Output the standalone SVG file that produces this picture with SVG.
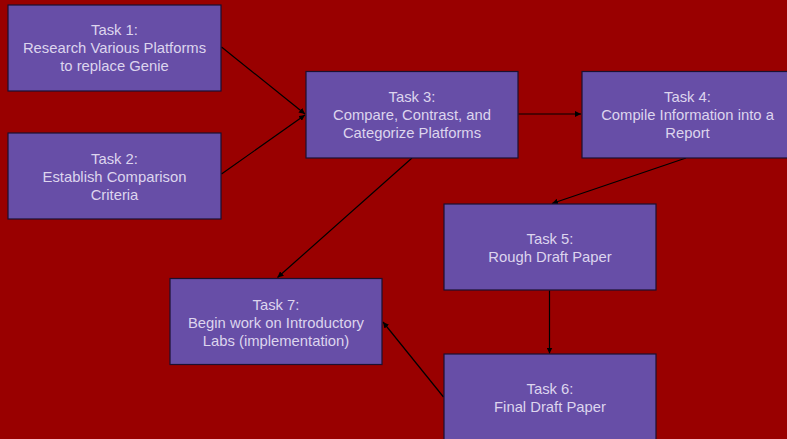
<svg xmlns="http://www.w3.org/2000/svg" width="787" height="439" viewBox="0 0 787 439">
<defs>
<style>
.box{fill:#674ea7;stroke:#1c1030;stroke-width:1.2}
.t{font-family:"Liberation Sans",Arial,sans-serif;font-size:14.8px;fill:#ddd5ee;text-anchor:middle}
.c{stroke:#000;stroke-width:1.2;fill:none;marker-end:url(#ah)}
</style>
<marker id="ah" viewBox="0 0 10 10" refX="10" refY="5" markerWidth="6" markerHeight="6" markerUnits="userSpaceOnUse" orient="auto">
<path d="M0,0 L10,5 L0,10 z" fill="#000"/>
</marker>
</defs>
<rect width="787" height="439" fill="#990000"/>
<g id="connectors">
<line class="c" x1="221.5" y1="47" x2="305" y2="114"/>
<line class="c" x1="221.5" y1="174" x2="305" y2="115"/>
<line class="c" x1="518.5" y1="114" x2="581" y2="114"/>
<line class="c" x1="686" y1="158" x2="552" y2="203.5"/>
<line class="c" x1="412" y1="158" x2="277.5" y2="277.5"/>
<line class="c" x1="549.5" y1="290.5" x2="549.5" y2="353.5"/>
<line class="c" x1="443.5" y1="397" x2="383" y2="322"/>
</g>
<g id="task1">
<rect class="box" x="8" y="5" width="213" height="86"/>
<text class="t" x="114.5" y="35">Task 1:</text>
<text class="t" x="114.5" y="53">Research Various Platforms</text>
<text class="t" x="114.5" y="71">to replace Genie</text>
</g>
<g id="task2">
<rect class="box" x="8" y="133" width="213" height="86"/>
<text class="t" x="114.5" y="164">Task 2:</text>
<text class="t" x="114.5" y="182">Establish Comparison</text>
<text class="t" x="114.5" y="200">Criteria</text>
</g>
<g id="task3">
<rect class="box" x="306" y="71.5" width="212" height="86.5"/>
<text class="t" x="412" y="102">Task 3:</text>
<text class="t" x="412" y="120">Compare, Contrast, and</text>
<text class="t" x="412" y="138">Categorize Platforms</text>
</g>
<g id="task4">
<rect class="box" x="582" y="71.5" width="213" height="86.5"/>
<text class="t" x="687.5" y="102">Task 4:</text>
<text class="t" x="687.5" y="120">Compile Information into a</text>
<text class="t" x="687.5" y="138">Report</text>
</g>
<g id="task5">
<rect class="box" x="444" y="204" width="212" height="86"/>
<text class="t" x="550" y="244">Task 5:</text>
<text class="t" x="550" y="262">Rough Draft Paper</text>
</g>
<g id="task6">
<rect class="box" x="444" y="354" width="212" height="90"/>
<text class="t" x="550" y="394">Task 6:</text>
<text class="t" x="550" y="412">Final Draft Paper</text>
</g>
<g id="task7">
<rect class="box" x="170" y="278.5" width="212" height="86"/>
<text class="t" x="276" y="310">Task 7:</text>
<text class="t" x="276" y="328">Begin work on Introductory</text>
<text class="t" x="276" y="346">Labs (implementation)</text>
</g>
</svg>
